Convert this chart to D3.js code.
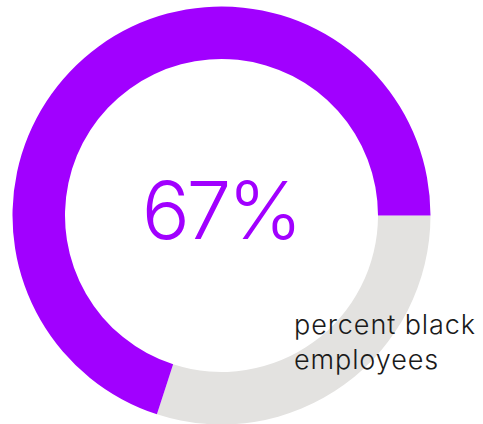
<!DOCTYPE html>
<html>
<head>
<meta charset="utf-8">
<script src="https://cdn.jsdelivr.net/npm/d3@7"></script>
<style>
  body { margin: 0; background: #fff; }
  svg { display: block; }
</style>
</head>
<body>
<div id="chart"></div>
<script>
// data
const categories = ["other", "black employees"];
const values = [30, 70];
const colors = ["#e3e2e0", "#a100ff"];
const centerLabel = "67%";
const labelLines = ["percent black", "employees"];

const width = 483, height = 424;
const cx = 221.5, cy = 215.5;
const outerR = 209, innerR = 156.5;

const svg = d3.select("#chart").append("svg")
  .attr("width", width)
  .attr("height", height);

const g = svg.append("g")
  .attr("transform", "translate(" + cx + "," + cy + ")");

const pie = d3.pie()
  .sort(null)
  .startAngle(Math.PI / 2)
  .endAngle(Math.PI / 2 + 2 * Math.PI);

const arc = d3.arc()
  .innerRadius(innerR)
  .outerRadius(outerR);

const data = categories.map((c, i) => ({ name: c, value: values[i] }));

g.selectAll("path")
  .data(pie.value(d => d.value)(data))
  .enter()
  .append("path")
    .attr("d", arc)
    .style("fill", (d, i) => colors[i]);

g.append("text")
  .attr("x", -1)
  .attr("y", 23)
  .attr("text-anchor", "middle")
  .style("font-family", "Inter, 'Open Sans', sans-serif")
  .style("font-weight", 300)
  .style("font-size", "80px")
  .style("letter-spacing", "-3.5px")
  .style("fill", "#a100ff")
  .text(centerLabel);

svg.append("g")
  .selectAll("text")
  .data(labelLines)
  .enter()
  .append("text")
    .attr("x", 294)
    .attr("y", (d, i) => 334 + i * 35)
    .style("font-family", "Inter, 'Open Sans', sans-serif")
    .style("font-weight", 300)
    .style("font-size", "27px")
    .style("letter-spacing", "0.9px")
    .style("fill", "#1a1a1a")
    .text(d => d);
</script>
</body>
</html>
